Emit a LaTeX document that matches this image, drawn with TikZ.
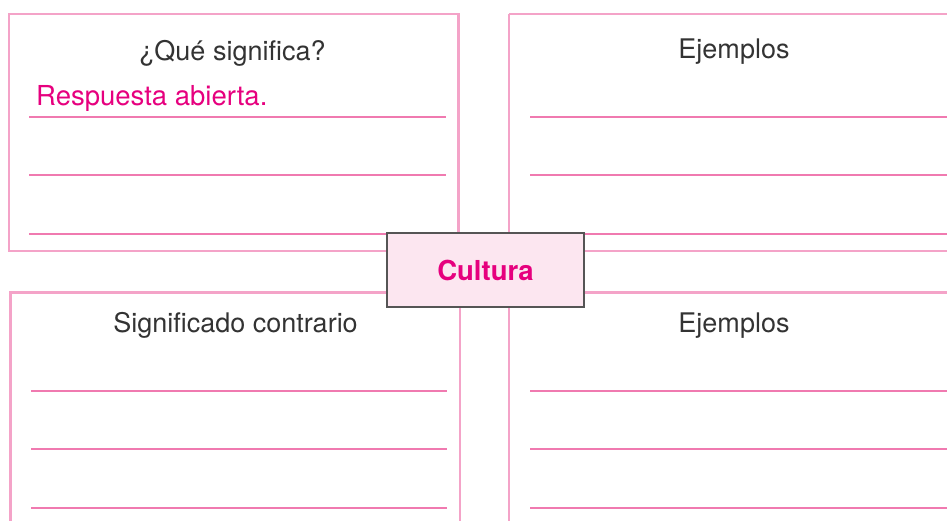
\documentclass[tikz,border=0pt]{standalone}
\usepackage{fontspec}
\setmainfont{TeX Gyre Heros}
\definecolor{boxpink}{HTML}{F4A3C8}
\definecolor{linepink}{HTML}{F07AB0}
\definecolor{magtext}{HTML}{E6007E}
\definecolor{graytext}{HTML}{333333}
\definecolor{centerfill}{HTML}{FCE6F0}
\definecolor{centerdraw}{HTML}{555555}
\tikzset{
  panel/.style={draw=boxpink, line width=2.8pt},
  writeline/.style={draw=linepink, line width=1.3pt},
  title/.style={anchor=base, inner sep=0pt, text=graytext, font=\fontsize{27}{31}\selectfont},
  answer/.style={anchor=base west, inner sep=0pt, text=magtext, font=\fontsize{27.5}{31}\selectfont},
  centerbox/.style={draw=centerdraw, fill=centerfill, line width=2.5pt, minimum width=197pt, minimum height=74pt, inner sep=0pt, text=magtext, font=\fontsize{27.5}{31}\selectfont\bfseries}
}
\begin{document}
\begin{tikzpicture}[x=1pt,y=-1pt]
\useasboundingbox (0,0) rectangle (947,521);
\begin{scope}
\clip (0,0) rectangle (947,521);
% panels
\draw[panel] (9,14) rectangle (458.5,251);
\draw[panel] (509,14) -- (960,14);
\draw[panel] (960,251) -- (509,251) -- (509,14);
\draw[panel] (10.5,540) -- (10.5,292.5) -- (460,292.5) -- (460,540);
\draw[panel] (509,540) -- (509,292.5) -- (960,292.5);
% writing lines
\foreach \y in {117,175,234} {
  \draw[writeline] (29,\y) -- (446,\y);
  \draw[writeline] (530,\y) -- (960,\y);
}
\foreach \y in {391,449,508} {
  \draw[writeline] (31,\y) -- (447,\y);
  \draw[writeline] (530,\y) -- (960,\y);
}
\end{scope}
% titles
\node[title] (t1) at (232.5,61) {¿Qué significa?};
\node[title] (t2) at (734,59) {Ejemplos};
\node[title] (t3) at (235.5,332) {Significado contrario};
\node[title] (t4) at (734,332) {Ejemplos};
\node[answer] (ans) at (36,106) {Respuesta abierta.};
% center
\node[centerbox] (cultura) at (485.5,270) {Cultura};
\end{tikzpicture}
\end{document}
